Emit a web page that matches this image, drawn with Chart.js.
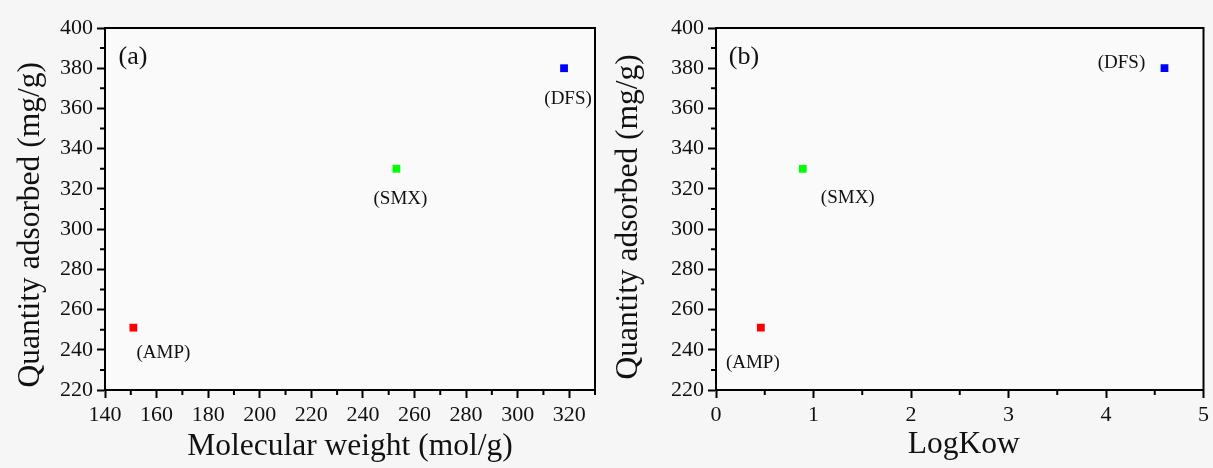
<!DOCTYPE html>
<html>
<head>
<meta charset="utf-8">
<script src="https://cdn.jsdelivr.net/npm/chart.js@4/dist/chart.umd.min.js"></script>
<style>
  body { margin: 0; background: #f6f6f6; }
  #wrap { position: relative; width: 1213px; height: 468px; }
  canvas { position: absolute; top: 0; }
  #chartA { left: 0; }
  #chartB { left: 605px; }
</style>
</head>
<body>
<div id="wrap">
  <canvas id="chartA" width="605" height="468"></canvas>
  <canvas id="chartB" width="608" height="468"></canvas>
</div>
<script>
// data
const compounds = ["(AMP)", "(SMX)", "(DFS)"];
const molWeight = [151, 253, 318];
const logKow = [0.46, 0.89, 4.6];
const adsorbed = [251, 330, 380];
const pointColors = ["#ff0000", "#00ff00", "#0000ff"];

// label offsets from each point (px)
const labelOffsetsA = [[30, 25], [4, 30], [4, 31]];
const labelOffsetsB = [[-8, 35], [45, 29], [-43, -5]];

const serif = "'Liberation Serif', 'Times New Roman', serif";

// minor ticks, frame, point labels, panel letter
const decor = {
  id: "decor",
  beforeDraw(chart) {
    const { ctx, chartArea: a } = chart;
    ctx.save();
    ctx.fillStyle = "#fafafa";
    ctx.fillRect(a.left, a.top, a.right - a.left, a.bottom - a.top);
    ctx.restore();
  },
  afterDraw(chart, args, opts) {
    const { ctx, chartArea: a } = chart;
    const x = chart.scales.x;
    const y = chart.scales.y;
    ctx.save();
    ctx.strokeStyle = "#000";
    ctx.lineWidth = 2;
    ctx.strokeRect(a.left, a.top, a.right - a.left, a.bottom - a.top);

    ctx.beginPath();
    for (let v = x.min + opts.xMinor; v <= x.max + 1e-9; v += opts.xMinor * 2) {
      const px = x.getPixelForValue(v);
      ctx.moveTo(px, a.bottom);
      ctx.lineTo(px, a.bottom + 5);
    }
    for (let v = y.min + opts.yMinor; v < y.max; v += opts.yMinor * 2) {
      const py = y.getPixelForValue(v);
      ctx.moveTo(a.left, py);
      ctx.lineTo(a.left - 5, py);
    }
    ctx.stroke();

    ctx.fillStyle = "#111";
    ctx.textAlign = "center";
    ctx.textBaseline = "middle";
    ctx.font = "19px " + serif;
    const pts = chart.getDatasetMeta(0).data;
    pts.forEach((p, i) => {
      const off = opts.offsets[i];
      ctx.fillText(compounds[i], p.x + off[0], p.y + off[1]);
    });

    ctx.font = "26px " + serif;
    ctx.fillText(opts.letter, a.left + 28, a.top + 29);
    ctx.restore();
  }
};

const makeConfig = (xs, xOpts, yTitle, yTitlePad, yAxisW, pad, extra) => ({
  type: "scatter",
  data: {
    datasets: [{
      data: xs.map((v, i) => ({ x: v, y: adsorbed[i] })),
      pointStyle: "rect",
      pointRadius: 5.5,
      pointBorderWidth: 0,
      pointBackgroundColor: pointColors,
    }],
  },
  options: {
    responsive: false,
    animation: false,
    layout: { padding: pad },
    plugins: {
      legend: { display: false },
      tooltip: { enabled: false },
      decor: extra,
    },
    scales: {
      x: Object.assign({
        type: "linear",
        border: { display: true, color: "#000", width: 2 },
        grid: { drawOnChartArea: false, tickLength: 8, tickWidth: 2, tickColor: "#000" },
        afterFit: (s) => { s.height = 78; },
      }, xOpts),
      y: {
        min: 220,
        max: 400,
        border: { display: true, color: "#000", width: 2 },
        grid: { drawOnChartArea: false, tickLength: 8, tickWidth: 2, tickColor: "#000" },
        ticks: { stepSize: 20, color: "#111", font: { family: serif, size: 22 }, padding: 4 },
        title: { display: true, text: yTitle, color: "#111", font: { family: serif, size: 31.5 }, padding: { top: yTitlePad } },
        afterFit: (s) => { s.width = yAxisW; },
      },
    },
  },
  plugins: [decor],
});

const chartA = new Chart(document.getElementById("chartA"), makeConfig(
  molWeight,
  {
    min: 140, max: 330,
    ticks: { stepSize: 20, includeBounds: false, color: "#111", font: { family: serif, size: 22 }, padding: 4 },
    title: { display: true, text: "Molecular weight (mol/g)", color: "#111", font: { family: serif, size: 31.5 }, padding: { bottom: 2 } },
  },
  "Quantity adsorbed (mg/g)    ", 12, 105,
  { top: 28, right: 10, left: 0, bottom: 0 },
  { xMinor: 10, yMinor: 10, offsets: labelOffsetsA, letter: "(a)" }
));

const chartB = new Chart(document.getElementById("chartB"), makeConfig(
  logKow,
  {
    min: 0, max: 5,
    ticks: { stepSize: 1, color: "#111", font: { family: serif, size: 22 }, padding: 4 },
    title: { display: true, text: " LogKow", color: "#111", font: { family: serif, size: 31.5 }, padding: { bottom: 4 } },
  },
  "Quantity adsorbed (mg/g)  ", 5, 111,
  { top: 28, right: 6, left: 0, bottom: 0 },
  { xMinor: 0.5, yMinor: 10, offsets: labelOffsetsB, letter: "(b)" }
));
</script>
</body>
</html>
